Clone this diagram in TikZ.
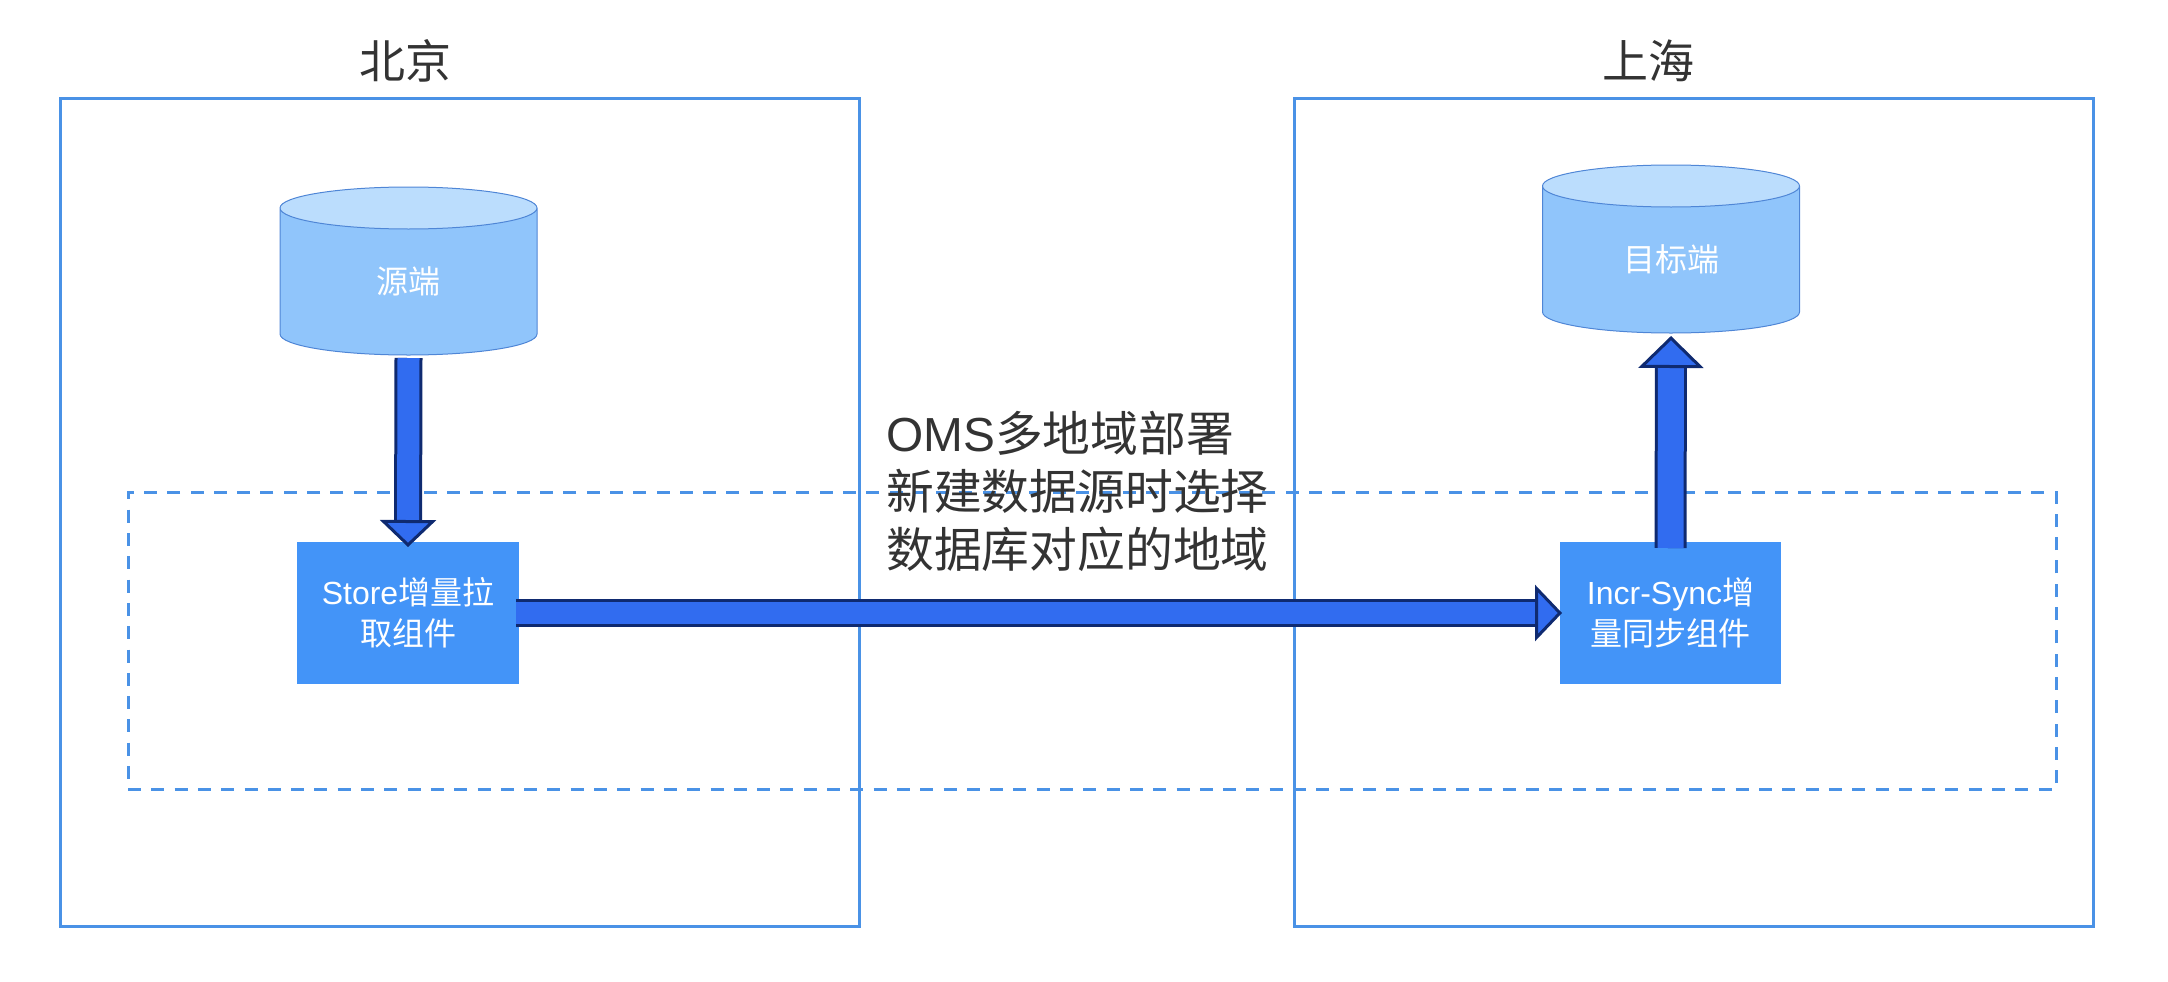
\documentclass[tikz,border=0pt]{standalone}
\usepackage{fontspec}
\setmainfont{Liberation Sans}
\newfontfamily\cjk{Noto Sans CJK SC}
\newcommand{\zh}[1]{{\cjk #1}}
\usetikzlibrary{arrows.meta,shapes.geometric}
\definecolor{frameblue}{HTML}{4A92E6}
\definecolor{boxblue}{HTML}{4394F8}
\definecolor{dbbody}{HTML}{90C5FB}
\definecolor{dbtop}{HTML}{BBDDFD}
\definecolor{dbline}{HTML}{4F86D6}
\definecolor{arrowfill}{HTML}{316CF0}
\definecolor{arrowline}{HTML}{0F2A70}
\definecolor{darktext}{HTML}{333333}
\begin{document}
\begin{tikzpicture}[x=1pt,y=-1pt,
  region/.style={draw=frameblue,line width=3pt,minimum width=799pt,minimum height=828pt,inner sep=0},
  title/.style={text=darktext,font=\fontsize{46}{50}\selectfont},
  database/.style={cylinder,shape border rotate=90,anchor=shape center,draw=dbline,line width=1pt,aspect=0.42,
    cylinder uses custom fill,cylinder body fill=dbbody,cylinder end fill=dbtop,
    text width=100pt,align=center,inner sep=0,
    minimum width=257pt,minimum height=168pt,outer sep=0,text=white,font=\fontsize{32}{40}\selectfont},
  component/.style={fill=boxblue,minimum height=142pt,inner sep=0,outer sep=0,align=center,
    text=white,font=\fontsize{32}{41}\selectfont},
  flow/.style={draw=arrowline,line width=3pt,double=arrowfill,double distance=22pt,
    -{Triangle[length=27pt,width=56pt,line width=3pt,fill=arrowfill]}},
  flowwide/.style={draw=arrowline,line width=3pt,double=arrowfill,double distance=26pt,
    -{Triangle[length=32pt,width=65pt,line width=3pt,fill=arrowfill]}}
]

\useasboundingbox (0,0) rectangle (2168,982);

\node [region] (beijing) at (459.5,512) {};
\node [region] (shanghai) at (1693.5,512) {};
\node [draw=frameblue,line width=3pt,dash pattern=on 13pt off 10.3pt,minimum width=1928pt,minimum height=297pt,inner sep=0] (deploy) at (1092,640.5) {};

\node [title] (bjtitle) at (405,61) {\zh{北京}};
\node [title] (shtitle) at (1648,61) {\zh{上海}};

\node [database] (source) at (408.5,271) {\zh{源端}};
\node [database] (target) at (1671,249) {\zh{目标端}};

\node [component,minimum width=222pt] (store) at (408,613) {Store\zh{增量拉}\\\zh{取组件}};
\node [component,minimum width=221pt] (incr) at (1670.5,613) {Incr-Sync\zh{增}\\\zh{量同步组件}};

\node [anchor=west,align=left,inner sep=0,text=darktext,font=\fontsize{47.8}{58}\selectfont] (note) at (886,491)
  {OMS\zh{多地域部署}\\\zh{新建数据源时选择}\\\zh{数据库对应的地域}};

\path [flow]
    ([yshift=-3pt]source.south) -- ([yshift=-5pt]store.north)
;
\path [flowwide]
    ([yshift=-6pt]incr.north) -- ([yshift=-3pt]target.south)
;
\path [flow]
    ([xshift=-3pt]store.east) -- ([xshift=2pt]incr.west)
;

\end{tikzpicture}
\end{document}
